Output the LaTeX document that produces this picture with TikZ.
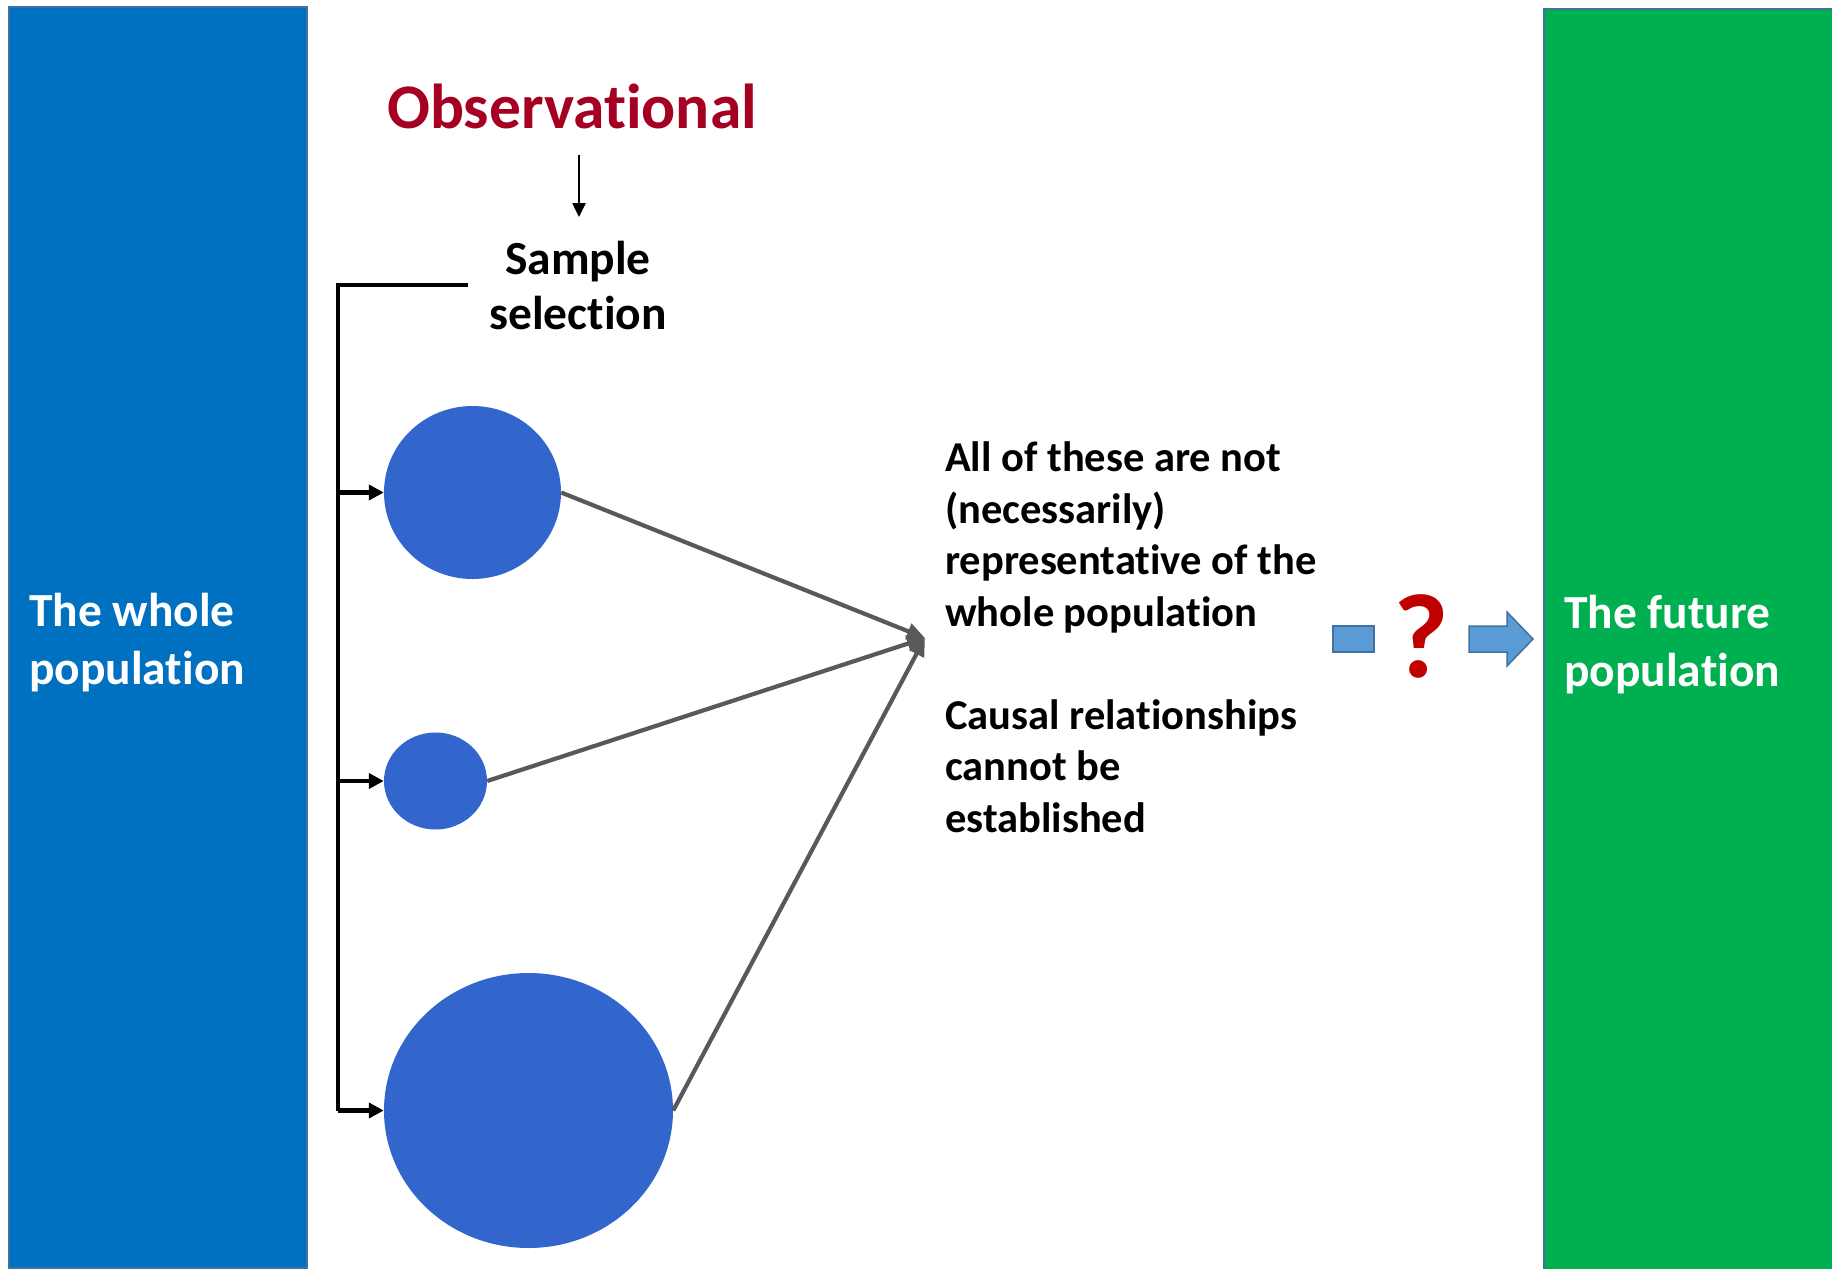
\documentclass[tikz,border=0pt]{standalone}
\usepackage{fontspec}
\setmainfont{Carlito}[Ligatures=NoCommon]
\usetikzlibrary{arrows.meta,shapes.geometric}
\definecolor{popblue}{HTML}{0070C0}
\definecolor{popgreen}{HTML}{00B050}
\definecolor{edgeblue}{HTML}{41719C}
\definecolor{dotblue}{HTML}{3366CC}
\definecolor{obsred}{HTML}{A50021}
\definecolor{qred}{HTML}{C00000}
\definecolor{linegray}{HTML}{595959}
\definecolor{arrowblue}{HTML}{5B9BD5}
\tikzset{
  popbox/.style={draw=edgeblue, line width=2pt},
  poptext/.style={text=white, font=\fontsize{47.5}{58}\selectfont\bfseries, align=left, anchor=base west, inner sep=0pt},
  dot/.style={ellipse, fill=dotblue, draw=none, inner sep=0pt},
  selarrow/.style={black, line width=4.2pt, -{Triangle[length=15pt,width=15pt]}},
  graylink/.style={linegray, line width=4.2pt, -{Triangle[length=18pt,width=16pt]}},
  bodytext/.style={font=\fontsize{42.5}{51.5}\selectfont\bfseries, align=left, anchor=base west, inner sep=0pt},
  blockarrow/.style={fill=arrowblue, draw=edgeblue, line width=1.5pt}
}
\begin{document}
\begin{tikzpicture}[x=1pt,y=-1pt]
\useasboundingbox (0,0) rectangle (1832,1269);
\clip (0,0) rectangle (1832,1269);
% population bars
\draw[popbox, fill=popblue] (9,7) rectangle (306.5,1267.5);
\draw[popbox, fill=popgreen] (1544,9) rectangle (1845,1285);
% multi-line nodes: base = baseline of last line
\node[poptext] (whole) at (29,684) {The whole\\population};
\node[poptext] (future) at (1564,686) {The future\\population};
% title
\node[font=\fontsize{63.5}{70}\selectfont\bfseries, text=obsred, anchor=base, inner sep=0pt] (obs) at (572,128) {Observational};
\node[font=\fontsize{47.5}{55}\selectfont\bfseries, align=center, anchor=base, inner sep=0pt] (sel) at (578,329) {Sample\\selection};
\coordinate (obsfrom) at (579,155);
\coordinate (obsto) at (579,217);
\draw[black, line width=2.5pt, -{Triangle[length=14pt,width=13pt]}] (obsfrom) -- (obsto);
% samples
\node[dot, minimum width=177pt, minimum height=173pt] (c1) at (472.5,492.5) {};
\node[dot, minimum width=103pt, minimum height=97pt] (c2) at (435.5,781) {};
\node[dot, minimum width=289pt, minimum height=275pt] (c3) at (528.5,1110.5) {};
% selection bracket
\coordinate (brtop) at (468,285);
\coordinate (brcorner) at (338,285);
\coordinate (br1) at (338,492.5);
\coordinate (br2) at (338,781);
\coordinate (br3) at (338,1110.5);
\draw[black, line width=4.2pt, line join=miter] (brtop) -- (brcorner) -- (br3);
\draw[selarrow] (br3) -- (c3.west);
\draw[selarrow] (br1) -- (c1.west);
\draw[selarrow] (br2) -- (c2.west);
% converging links
\coordinate (tip) at (925,638);
\draw[graylink] (c1.east) -- (tip);
\draw[graylink] (c2.east) -- (tip);
\draw[graylink] (c3.east) -- (tip);
\node[bodytext] (note) at (945,832) {All of these are not\\(necessarily)\\representative of the\\whole population\\[51.5pt]Causal relationships\\cannot be\\established};
% question arrow
\draw[blockarrow] (1333,626) rectangle (1374,652);
\draw[blockarrow] (1469,626) -- (1507,626) -- (1507,612) -- (1533,639) -- (1507,666) -- (1507,652) -- (1469,652) -- cycle;
\node[font=\fontsize{120}{130}\selectfont\bfseries, text=qred, anchor=base, inner sep=0pt] (q) at (1421,677) {?};
\end{tikzpicture}
\end{document}
